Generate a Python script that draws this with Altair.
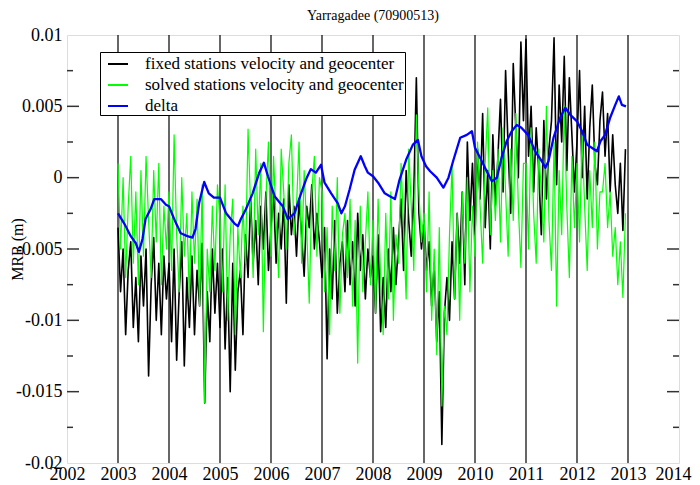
import altair as alt
import pandas as pd

TITLE = "Yarragadee (70900513)"
SERIES = ["fixed stations velocity and geocenter",
          "solved stations velocity and geocenter",
          "delta"]
COLORS = ["#000000", "#00ff00", "#0000ff"]
FONT = "Liberation Serif"

# samples every 0.05 yr from 2003.0, values in mm
fixed_2003 = [-3.5, -8.0, -5.0, -11.0, -6.5, -4.5, -10.5, -7.0, -11.5, -5.5, -9.0, -5.0, -13.9, -7.5, -4.2, -10.0, -6.0, -11.0, -5.5, -8.5]
fixed_2004 = [-6.0, -11.5, -5.0, -12.8, -8.0, -4.5, -13.2, -7.0, -10.5, -5.5, -11.0, -6.5, -9.0, -4.6, -15.8, -8.0, -11.5, -5.0, -9.5, -6.0]
fixed_2005 = [-10.5, -5.0, -12.0, -7.0, -15.0, -6.0, -13.5, -8.0, -6.5, -11.0, -4.0, -7.0, -1.5, -6.0, -3.0, -7.5, -2.0, -5.0, -1.0, -6.5]
fixed_2006 = [-3.5, -1.0, -6.0, -2.5, -5.0, -1.5, -8.8, -0.5, -4.0, -2.0, -5.5, -1.5, -4.0, -6.9, -2.0, -3.5, -0.5, -5.0, -2.5, -4.5]
fixed_2007 = [-7.0, -3.5, -12.7, -5.0, -8.5, -3.0, -9.5, -6.0, -4.5, -8.0, -3.0, -7.5, -4.5, -9.0, -2.5, -6.5, -4.0, -8.5, -5.0, -7.0]
fixed_2008 = [-5.5, -9.5, -4.0, -10.8, -7.0, -10.5, -5.0, -8.0, -3.5, -7.5, -4.5, -1.5, -6.5, 0.5, -3.0, -5.5, -1.0, 7.0, -2.5, -5.0]
fixed_2009 = [-3.0, -6.5, -4.5, -9.0, -6.0, -11.5, -8.0, -18.7, -9.5, -7.0, -10.0, -4.5, -8.5, -2.5, -6.0, -1.0, -7.5, 2.5, -3.0, 1.0]
fixed_2010 = [-4.0, 2.0, -1.5, 4.5, -3.5, 0.5, -5.0, 3.0, -2.0, 1.5, 5.5, -1.0, 7.5, 2.0, -2.5, 8.0, 3.5, 0.0, 9.5, 4.0]
fixed_2011 = [9.7, 1.5, 5.0, -1.0, 3.5, 0.5, -4.0, 4.0, -1.5, 2.0, 4.0, 9.8, -0.5, 6.5, 2.5, 8.5, 0.5, 7.0, 3.0, -1.0]
fixed_2012 = [2.5, 7.5, 0.0, 5.0, -1.5, 3.5, 6.5, 1.0, -0.5, 4.0, 6.0, 1.5, 4.5, -1.0, 3.0, -0.5, -2.5, 1.0, -3.7, 2.0]

solved_2003 = [1.0, -5.0, 0.0, -7.0, -2.0, 1.5, -6.0, -1.0, -7.5, 0.5, -5.5, 1.5, -3.0, -7.0, 0.5, -4.5, 1.0, -7.5, -2.0, -5.0]
solved_2004 = [-1.0, -6.5, 3.0, -4.0, -8.0, 0.0, -5.5, -2.5, -8.5, -1.0, -6.0, -1.5, -9.0, -0.5, -15.8, -5.0, -8.0, -2.0, -6.5, -0.5]
solved_2005 = [-3.0, -8.0, -0.5, -10.0, -4.0, -1.5, -11.0, -3.5, -7.0, -2.0, -6.0, 3.4, -2.0, -7.0, 2.0, -4.0, 1.0, -10.8, -1.5, 2.5]
solved_2006 = [-5.5, 1.5, -3.0, -7.0, 2.0, -1.0, -5.0, 1.0, 3.0, -4.0, -2.0, 2.5, -6.0, 0.5, -3.5, -8.8, -1.0, 1.5, -5.5, 0.0]
solved_2007 = [-1.0, -8.0, -3.5, -11.0, -2.0, -6.5, 0.0, -9.5, -4.0, -2.5, -7.0, -1.5, -9.0, -3.0, -13.0, -2.0, -8.0, -4.5, -1.0, -7.5]
solved_2008 = [-3.0, -9.5, -1.5, -7.0, -11.0, -2.5, -8.5, -1.0, -10.0, -4.0, -6.0, 1.0, -3.5, -8.5, 2.0, -2.0, -6.5, 4.4, -1.0, -4.5]
solved_2009 = [-2.5, -8.0, -1.0, -10.0, -5.0, -12.4, -3.5, -16.0, -9.0, -11.0, -4.0, 0.9, -8.5, -2.5, -10.0, -1.0, -6.0, 0.0, -8.0, -2.0]
solved_2010 = [-5.5, 2.5, -2.0, -6.0, 1.0, 4.9, -4.0, 0.5, -3.0, 2.0, -4.5, 3.5, -1.0, -5.5, 2.0, -3.0, 4.5, -2.0, -6.3, 1.0]
solved_2011 = [1.0, -5.0, 3.5, -2.5, -6.0, 2.0, -1.0, -4.5, 5.0, -3.0, -6.5, 2.5, -9.0, 0.5, -4.0, 5.0, -2.0, -7.0, 1.5, -3.5]
solved_2012 = [1.0, -4.5, 3.0, -2.0, -6.5, 0.5, -3.5, 2.5, -5.0, -1.0, -1.0, 1.0, -3.5, -1.0, -5.5, -3.5, -7.5, -4.5, -8.4, -2.5]

delta_years = [2003.0, 2003.12, 2003.25, 2003.35, 2003.41, 2003.48, 2003.54, 2003.64, 2003.71, 2003.84, 2003.94,
               2004.0, 2004.10, 2004.23, 2004.36, 2004.46, 2004.52, 2004.59, 2004.69, 2004.78, 2004.88,
               2005.0, 2005.12, 2005.28, 2005.35, 2005.41, 2005.51, 2005.64, 2005.77, 2005.86, 2005.94,
               2006.07, 2006.23, 2006.33, 2006.46, 2006.59, 2006.69, 2006.78, 2006.88, 2006.98,
               2007.05, 2007.18, 2007.31, 2007.38, 2007.45, 2007.54, 2007.64, 2007.76, 2007.84, 2007.90,
               2008.0, 2008.10, 2008.23, 2008.33, 2008.43, 2008.52, 2008.65, 2008.78, 2008.88, 2008.95,
               2009.04, 2009.12, 2009.25, 2009.38, 2009.48, 2009.57, 2009.71, 2009.84, 2009.94,
               2010.0, 2010.10, 2010.23, 2010.33, 2010.43, 2010.52, 2010.62, 2010.72, 2010.82, 2010.91,
               2011.04, 2011.18, 2011.31, 2011.38, 2011.44, 2011.54, 2011.67, 2011.77, 2011.87,
               2012.0, 2012.10, 2012.20, 2012.29, 2012.39, 2012.46, 2012.55, 2012.65, 2012.75, 2012.82, 2012.88, 2012.96]
delta_mm = [-2.5, -3.2, -4.1, -4.6, -5.2, -4.3, -2.9, -2.2, -1.5, -1.5, -1.9,
            -2.0, -2.9, -3.9, -4.1, -4.2, -3.6, -1.8, -0.3, -1.1, -1.4,
            -1.4, -2.5, -3.2, -3.4, -2.9, -2.2, -1.1, 0.35, 1.05, 0.1,
            -1.3, -2.0, -2.9, -2.5, -1.1, -0.1, 0.6, 0.35, 0.9,
            -0.35, -1.1, -1.8, -2.5, -2.0, -0.85, 0.55, 1.5, 0.8, 0.35,
            0.1, -0.35, -1.1, -1.3, -1.5, -0.15, 1.25, 2.3, 2.65, 1.5,
            0.8, 0.45, 0.0, -0.7, 0.0, 1.15, 2.8, 3.0, 3.25,
            2.1, 1.4, 0.45, -0.25, 0.0, 1.4, 2.55, 3.25, 3.7, 3.5,
            3.0, 1.85, 1.15, 0.7, 1.15, 2.8, 4.2, 4.9, 4.4,
            3.95, 3.25, 2.3, 2.1, 1.85, 2.55, 3.0, 4.2, 5.1, 5.7, 5.1, 5.0]

year_lines = list(range(2003, 2014))
x_labels = list(range(2002, 2015))
y_major = [-0.02, -0.015, -0.01, -0.005, 0.0, 0.005, 0.01]
y_minor = [-0.0175, -0.0125, -0.0075, -0.0025, 0.0025, 0.0075]

fixed_mm = (fixed_2003 + fixed_2004 + fixed_2005 + fixed_2006 + fixed_2007 +
            fixed_2008 + fixed_2009 + fixed_2010 + fixed_2011 + fixed_2012)
solved_mm = (solved_2003 + solved_2004 + solved_2005 + solved_2006 + solved_2007 +
             solved_2008 + solved_2009 + solved_2010 + solved_2011 + solved_2012)

def grid(n):
    return [round(2003.0 + 0.05 * i, 3) for i in range(n)]

df_fixed = pd.DataFrame({"year": grid(len(fixed_mm)), "value": [v / 1000 for v in fixed_mm], "series": SERIES[0]})
df_solved = pd.DataFrame({"year": grid(len(solved_mm)), "value": [v / 1000 for v in solved_mm], "series": SERIES[1]})
df_delta = pd.DataFrame({"year": delta_years, "value": [v / 1000 for v in delta_mm], "series": SERIES[2]})
df_years = pd.DataFrame({"year": year_lines})
df_major = pd.DataFrame({"value": y_major[1:-1]})
df_minor = pd.DataFrame({"value": y_minor})
df_title = pd.DataFrame({"t": [TITLE]})

W, H = 612, 428

xenc = alt.X("year:Q",
             scale=alt.Scale(domain=[2002, 2014], nice=False, zero=False),
             axis=alt.Axis(values=x_labels, format="d", ticks=False, tickSize=0, domain=False, grid=False,
                           labelFont=FONT, labelFontSize=18, labelColor="#000", labelFlush=False,
                           labelOverlap=False, labelPadding=2, labelBound=False,
                           labelOffset={"condition": {"test": "datum.value == 2014", "value": -6}, "value": 0},
                           title=None))
yenc = alt.Y("value:Q",
             scale=alt.Scale(domain=[-0.02, 0.01], nice=False, zero=False),
             axis=alt.Axis(values=y_major, labelExpr="toString(datum.value)", ticks=False, tickSize=0,
                           domain=False, grid=False, labelFont=FONT, labelFontSize=18, labelColor="#000",
                           labelFlush=False, labelOverlap=False, labelPadding=5,
                           title="MRB (m)", titleFont=FONT, titleFontSize=16, titleFontWeight="normal",
                           titleColor="#000", titleX=-50, titleY=H / 2, titleAngle=270,
                           titleAlign="center", titleBaseline="middle"))

color = alt.Color("series:N",
                  scale=alt.Scale(domain=SERIES, range=COLORS),
                  legend=alt.Legend(title=None, orient="none", legendX=33, legendY=17,
                                    symbolType="stroke", symbolSize=400, symbolStrokeWidth=2,
                                    symbolOffset=6,
                                    labelFont=FONT, labelFontSize=17, labelColor="#000",
                                    labelOffset=16, padding=1, rowPadding=2,
                                    strokeColor="#000", fillColor="#ffffff", labelLimit=400))

years_layer = alt.Chart(df_years).mark_rule(color="#000", strokeWidth=1.2).encode(x=xenc)
fixed_layer = alt.Chart(df_fixed).mark_line(strokeWidth=1.6, strokeJoin="round").encode(x=xenc, y=yenc, color=color)
solved_layer = alt.Chart(df_solved).mark_line(strokeWidth=1.2, strokeJoin="round").encode(x=xenc, y=yenc, color=color)
delta_layer = alt.Chart(df_delta).mark_line(strokeWidth=2.3, strokeJoin="round").encode(x=xenc, y=yenc, color=color)

tick_major_l = alt.Chart(df_major).mark_rule(color="#333", strokeWidth=1.5).encode(
    y=yenc, x=alt.value(0), x2=alt.value(12))
tick_major_r = alt.Chart(df_major).mark_rule(color="#333", strokeWidth=1.5).encode(
    y=yenc, x=alt.value(W - 12), x2=alt.value(W))
tick_minor_l = alt.Chart(df_minor).mark_rule(color="#333", strokeWidth=1.5).encode(
    y=yenc, x=alt.value(0), x2=alt.value(6))
tick_minor_r = alt.Chart(df_minor).mark_rule(color="#333", strokeWidth=1.5).encode(
    y=yenc, x=alt.value(W - 6), x2=alt.value(W))

title_layer = alt.Chart(df_title).mark_text(font=FONT, fontSize=14, color="#000", align="center",
                                            baseline="alphabetic").encode(
    text="t:N", x=alt.value(W / 2), y=alt.value(-15))

chart = alt.layer(
    years_layer, fixed_layer, solved_layer, delta_layer,
    tick_major_l, tick_major_r, tick_minor_l, tick_minor_r, title_layer
).properties(
    width=W, height=H,
    autosize=alt.AutoSizeParams(type="none"),
    padding={"left": 59, "top": 27, "right": 13, "bottom": 20},
).configure_view(
    stroke="#404040", strokeWidth=2
).configure(background="#ffffff")

chart.save("out.html", embed_options={"renderer": "svg", "actions": False})
